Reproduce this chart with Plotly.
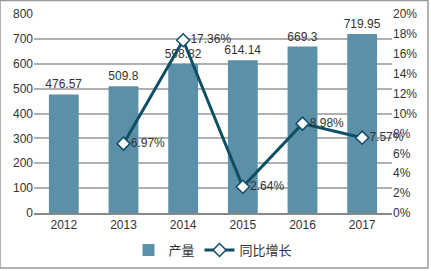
import plotly.graph_objects as go

years = ["2012", "2013", "2014", "2015", "2016", "2017"]
output = [476.57, 509.8, 598.82, 614.14, 669.3, 719.95]
growth_years = ["2013", "2014", "2015", "2016", "2017"]
growth = [6.97, 17.36, 2.64, 8.98, 7.57]

W, H = 431, 271
L, R, T, B = 34, 39, 14, 58
pw, ph = W - L - R, H - T - B

fig = go.Figure()
fig.add_trace(go.Bar(
    x=years, y=output, name="产量",
    marker=dict(color="#5B90A8", line=dict(width=0)),
    text=[f"{v:g}" for v in output], textposition="outside", constraintext="none",
    textfont=dict(size=12, color="#333333"), cliponaxis=False,
))
fig.add_trace(go.Scatter(
    x=growth_years, y=growth, name="同比增长", yaxis="y2",
    mode="lines+markers+text",
    line=dict(color="#0E4E66", width=3),
    marker=dict(symbol="diamond", size=10, color="white", line=dict(color="#0E4E66", width=1.5)),
    text=[f"{v:.2f}%" for v in growth], textposition="middle right",
    textfont=dict(size=12, color="#333333"), cliponaxis=False,
))

fig.update_layout(
    width=W, height=H,
    margin=dict(l=L, r=R, t=T, b=B, autoexpand=False),
    paper_bgcolor="white", plot_bgcolor="white",
    font=dict(family="Liberation Sans, Arial, Noto Sans CJK SC", size=12, color="#333333"),
    bargap=0.5,
    xaxis=dict(showgrid=False, showline=True, linecolor="#888888", linewidth=2,
               ticks="", tickfont=dict(size=12), automargin=False),
    yaxis=dict(range=[0, 800], dtick=100, showgrid=True, gridcolor="#B0B0B0", gridwidth=1.5,
               zeroline=False, ticks="", tickfont=dict(size=12), automargin=False),
    yaxis2=dict(range=[0, 20], dtick=2, overlaying="y", side="right", showgrid=False,
                zeroline=False, ticksuffix="%", ticks="", tickfont=dict(size=12), automargin=False),
    legend=dict(orientation="h", x=0.5, xanchor="center", y=-37 / ph, yanchor="middle",
                font=dict(size=13, family="Noto Sans CJK SC")),
    shapes=[dict(type="rect", xref="paper", yref="paper",
                 x0=-L / pw, x1=(W - 3 - L) / pw, y0=-(H - 3 - T - ph) / ph, y1=(ph + T - 0.5) / ph,
                 line=dict(color="#999999", width=1.5))],
)
fig.write_html("out.html")
